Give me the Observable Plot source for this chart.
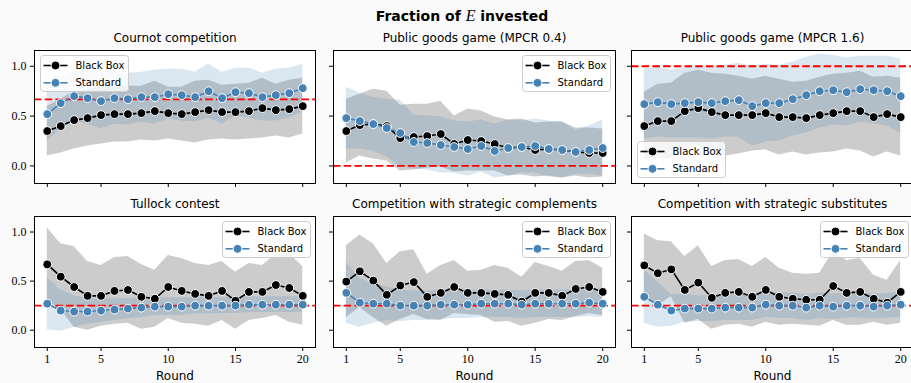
<!DOCTYPE html>
<html>
<head>
<meta charset="utf-8">
<script src="https://cdn.jsdelivr.net/npm/d3@7"></script>
<script src="https://cdn.jsdelivr.net/npm/@observablehq/plot@0.6"></script>
<style>
  html, body { margin: 0; padding: 0; background: #fafafa; }
  #fig { position: relative; width: 911px; height: 383px; overflow: hidden; background: #fafafa; }
  #fig > svg { position: absolute; }
</style>
</head>
<body>
<div id="fig"></div>
<script>
// Rounds of play
const rounds = [1, 2, 3, 4, 5, 6, 7, 8, 9, 10, 11, 12, 13, 14, 15, 16, 17, 18, 19, 20];
const xTicks = [1, 5, 10, 15, 20];
const yTicks = [0, 0.5, 1];

const panelTitles = [
  "Cournot competition",
  "Public goods game (MPCR 0.4)",
  "Public goods game (MPCR 1.6)",
  "Tullock contest",
  "Competition with strategic complements",
  "Competition with strategic substitutes"
];
const seriesNames = ["Black Box", "Standard"];
// Equilibrium benchmark per game (dashed red line)
const benchmarks = [0.667, 0, 1, 0.25, 0.25, 0.25];

// Mean fraction invested and its standard deviation, per round
const cournotBlackBox    = [0.35, 0.40, 0.46, 0.48, 0.51, 0.52, 0.52, 0.53, 0.55, 0.53, 0.52, 0.54, 0.56, 0.54, 0.54, 0.55, 0.58, 0.56, 0.57, 0.60];
const cournotBlackBoxSd  = [0.25, 0.27, 0.29, 0.28, 0.29, 0.28, 0.28, 0.27, 0.30, 0.26, 0.27, 0.31, 0.30, 0.27, 0.28, 0.28, 0.30, 0.26, 0.29, 0.28];
const cournotStandard    = [0.52, 0.63, 0.70, 0.68, 0.65, 0.68, 0.67, 0.69, 0.69, 0.72, 0.71, 0.69, 0.75, 0.68, 0.74, 0.73, 0.69, 0.71, 0.73, 0.78];
const cournotStandardSd  = [0.27, 0.26, 0.25, 0.26, 0.28, 0.26, 0.26, 0.25, 0.27, 0.25, 0.26, 0.25, 0.27, 0.26, 0.24, 0.25, 0.24, 0.26, 0.25, 0.24];

const pg04BlackBox       = [0.35, 0.41, 0.42, 0.40, 0.28, 0.29, 0.30, 0.32, 0.22, 0.26, 0.25, 0.22, 0.18, 0.19, 0.16, 0.17, 0.16, 0.14, 0.13, 0.13];
const pg04BlackBoxSd     = [0.32, 0.31, 0.35, 0.35, 0.33, 0.33, 0.32, 0.33, 0.28, 0.31, 0.30, 0.27, 0.28, 0.28, 0.27, 0.27, 0.28, 0.24, 0.25, 0.24];
const pg04Standard       = [0.48, 0.45, 0.42, 0.38, 0.33, 0.24, 0.23, 0.21, 0.19, 0.17, 0.20, 0.15, 0.18, 0.19, 0.20, 0.17, 0.16, 0.14, 0.16, 0.18];
const pg04StandardSd     = [0.31, 0.28, 0.27, 0.29, 0.33, 0.27, 0.27, 0.28, 0.26, 0.27, 0.26, 0.27, 0.28, 0.26, 0.27, 0.28, 0.28, 0.22, 0.24, 0.28];

const pg16BlackBox       = [0.40, 0.45, 0.45, 0.55, 0.58, 0.54, 0.51, 0.51, 0.51, 0.53, 0.49, 0.49, 0.48, 0.51, 0.53, 0.55, 0.55, 0.49, 0.52, 0.49];
const pg16BlackBoxSd     = [0.34, 0.37, 0.38, 0.38, 0.38, 0.39, 0.41, 0.39, 0.36, 0.37, 0.38, 0.35, 0.37, 0.38, 0.39, 0.38, 0.40, 0.40, 0.38, 0.39];
const pg16Standard       = [0.62, 0.64, 0.62, 0.63, 0.64, 0.63, 0.65, 0.66, 0.60, 0.63, 0.63, 0.67, 0.71, 0.75, 0.76, 0.74, 0.77, 0.76, 0.75, 0.70];
const pg16StandardSd     = [0.35, 0.35, 0.34, 0.35, 0.36, 0.36, 0.36, 0.37, 0.40, 0.39, 0.38, 0.37, 0.38, 0.37, 0.35, 0.34, 0.33, 0.34, 0.35, 0.37];

const tullockBlackBox    = [0.67, 0.545, 0.44, 0.35, 0.35, 0.40, 0.41, 0.34, 0.32, 0.44, 0.40, 0.37, 0.35, 0.40, 0.30, 0.39, 0.39, 0.46, 0.43, 0.35];
const tullockBlackBoxSd  = [0.37, 0.335, 0.41, 0.35, 0.31, 0.34, 0.34, 0.33, 0.29, 0.32, 0.33, 0.31, 0.31, 0.30, 0.29, 0.29, 0.27, 0.31, 0.35, 0.30];
const tullockStandard    = [0.27, 0.20, 0.19, 0.19, 0.20, 0.21, 0.22, 0.23, 0.24, 0.24, 0.24, 0.25, 0.25, 0.25, 0.25, 0.26, 0.26, 0.26, 0.26, 0.26];
const tullockStandardSd  = [0.265, 0.21, 0.16, 0.13, 0.12, 0.11, 0.10, 0.10, 0.09, 0.09, 0.09, 0.085, 0.085, 0.08, 0.08, 0.08, 0.08, 0.08, 0.08, 0.08];

const complBlackBox      = [0.495, 0.60, 0.505, 0.36, 0.455, 0.49, 0.34, 0.38, 0.44, 0.38, 0.38, 0.37, 0.36, 0.29, 0.38, 0.38, 0.35, 0.42, 0.44, 0.39];
const complBlackBoxSd    = [0.365, 0.37, 0.375, 0.32, 0.345, 0.33, 0.23, 0.28, 0.27, 0.22, 0.23, 0.29, 0.27, 0.25, 0.31, 0.27, 0.25, 0.28, 0.27, 0.24];
const complStandard      = [0.38, 0.28, 0.27, 0.27, 0.25, 0.25, 0.25, 0.26, 0.26, 0.26, 0.27, 0.27, 0.27, 0.26, 0.27, 0.27, 0.27, 0.27, 0.28, 0.27];
const complStandardSd    = [0.31, 0.25, 0.20, 0.17, 0.16, 0.15, 0.15, 0.15, 0.14, 0.14, 0.14, 0.14, 0.14, 0.14, 0.14, 0.14, 0.14, 0.14, 0.14, 0.14];

const substBlackBox      = [0.66, 0.58, 0.62, 0.41, 0.485, 0.33, 0.38, 0.39, 0.34, 0.41, 0.34, 0.32, 0.31, 0.31, 0.45, 0.38, 0.39, 0.32, 0.28, 0.39];
const substBlackBoxSd    = [0.32, 0.33, 0.28, 0.34, 0.375, 0.32, 0.33, 0.33, 0.31, 0.33, 0.29, 0.26, 0.26, 0.27, 0.35, 0.33, 0.34, 0.24, 0.23, 0.32];
const substStandard      = [0.34, 0.26, 0.20, 0.22, 0.22, 0.22, 0.23, 0.23, 0.23, 0.26, 0.25, 0.25, 0.23, 0.25, 0.24, 0.25, 0.25, 0.24, 0.25, 0.26];
const substStandardSd    = [0.27, 0.23, 0.16, 0.14, 0.13, 0.13, 0.13, 0.13, 0.13, 0.13, 0.13, 0.13, 0.13, 0.13, 0.13, 0.125, 0.125, 0.125, 0.125, 0.125];

const seriesByPanel = [
  [cournotBlackBox, cournotBlackBoxSd, cournotStandard, cournotStandardSd],
  [pg04BlackBox, pg04BlackBoxSd, pg04Standard, pg04StandardSd],
  [pg16BlackBox, pg16BlackBoxSd, pg16Standard, pg16StandardSd],
  [tullockBlackBox, tullockBlackBoxSd, tullockStandard, tullockStandardSd],
  [complBlackBox, complBlackBoxSd, complStandard, complStandardSd],
  [substBlackBox, substBlackBoxSd, substStandard, substStandardSd]
];
const legendCorners = ["top-left", "top-right", "bottom-left", "top-right", "top-right", "top-right"];

// Grid geometry: plot-area edges of each column and row
const colEdges = [[34, 315], [333, 615], [631, 913]];
const rowEdges = [[50, 183], [216, 347]];
const yDomain = [-0.176, 1.158];
const BLUE = "steelblue";

const fig = document.getElementById("fig");

// Figure title
const titleSvg = d3.select(fig).append("svg")
  .attr("width", 911).attr("height", 30).style("left", "0px").style("top", "0px");
const tt = titleSvg.append("text")
  .attr("x", 462).attr("y", 20.5).attr("text-anchor", "middle")
  .attr("font-family", "DejaVu Sans").attr("font-size", 14).attr("font-weight", "bold");
tt.append("tspan").text("Fraction of ");
tt.append("tspan").attr("font-family", "Liberation Serif").attr("font-style", "italic")
  .attr("font-weight", "normal").attr("font-size", 16).text("E");
tt.append("tspan").text(" invested");

function drawPanel(i) {
  const col = i % 3, row = Math.floor(i / 3);
  const [x0, x1] = colEdges[col];
  const [y0, y1] = rowEdges[row];
  const ml = 40, mr = 12, mt = 40, mb = 40;
  const fw = x1 - x0, fh = y1 - y0;
  const [bb, bbSd, st, stSd] = seriesByPanel[i];
  const data = rounds.map((r, k) => ({round: r, bb: bb[k], bbSd: bbSd[k], st: st[k], stSd: stSd[k]}));

  const svg = Plot.plot({
    width: fw + ml + mr,
    height: fh + mt + mb,
    marginLeft: ml, marginRight: mr, marginTop: mt, marginBottom: mb,
    x: {domain: [0.05, 20.95]},
    y: {domain: yDomain},
    style: {background: "transparent", overflow: "visible", fontFamily: "Liberation Serif", fontSize: "12px", color: "black"},
    marks: [
      Plot.frame({fill: "white", stroke: null}),
      Plot.areaY(data, {x: "round", y1: d => d.bb - d.bbSd, y2: d => d.bb + d.bbSd, fill: "black", fillOpacity: 0.2}),
      Plot.areaY(data, {x: "round", y1: d => d.st - d.stSd, y2: d => d.st + d.stSd, fill: BLUE, fillOpacity: 0.2}),
      Plot.ruleY([benchmarks[i]], {stroke: "red", strokeWidth: 1.8, strokeDasharray: "7.5,3.2"}),
      Plot.line(data, {x: "round", y: "bb", stroke: "black", strokeWidth: 1.6}),
      Plot.dot(data, {x: "round", y: "bb", r: 4.4, fill: "black", stroke: "white", strokeWidth: 1}),
      Plot.line(data, {x: "round", y: "st", stroke: BLUE, strokeWidth: 1.6}),
      Plot.dot(data, {x: "round", y: "st", r: 4.4, fill: BLUE, stroke: "white", strokeWidth: 1}),
      Plot.frame({stroke: "black", strokeWidth: 1}),
      Plot.axisY({ticks: yTicks, tickSize: 4, tickPadding: 4, label: null,
                  tickFormat: col === 0 ? d3.format(".1f") : () => ""}),
      Plot.axisX({ticks: xTicks, tickSize: 4, tickPadding: 3, label: null,
                  tickFormat: row === 1 ? d3.format("d") : () => ""}),
      Plot.text([panelTitles[i]], {text: d => d, frameAnchor: "top", lineAnchor: "middle", dy: -12,
                                   fontFamily: "DejaVu Sans", fontSize: 12}),
      row === 1 ? Plot.text(["Round"], {text: d => d, frameAnchor: "bottom", lineAnchor: "middle", dy: 29,
                                        fontFamily: "DejaVu Sans", fontSize: 12}) : null
    ]
  });

  svg.style.position = "absolute";
  svg.style.left = (x0 - ml) + "px";
  svg.style.top = (y0 - mt) + "px";
  fig.appendChild(svg);

  // Legend box
  const lw = 88, lh = 36, pad = 5;
  const corner = legendCorners[i];
  const lx = corner.endsWith("left") ? ml + pad + 1 : ml + fw - lw - pad;
  const ly = corner.startsWith("top") ? mt + pad : mt + fh - lh - pad - 1;
  const g = d3.select(svg).append("g").attr("transform", `translate(${lx},${ly})`)
    .attr("text-anchor", "start");
  g.append("rect").attr("x", 0.5).attr("y", 0.5).attr("width", lw).attr("height", lh).attr("rx", 3)
    .attr("fill", "white").attr("fill-opacity", 0.8).attr("stroke", "#cccccc").attr("stroke-width", 1);
  seriesNames.forEach((name, k) => {
    const color = k === 0 ? "black" : BLUE;
    const cy = 10.5 + k * 17.3;
    g.append("line").attr("x1", 3.5).attr("x2", 27.5).attr("y1", cy).attr("y2", cy)
      .attr("stroke", color).attr("stroke-width", 1.6);
    g.append("circle").attr("cx", 15.5).attr("cy", cy).attr("r", 4.4)
      .attr("fill", color).attr("stroke", "white").attr("stroke-width", 1);
    g.append("text").attr("x", 35.5).attr("y", cy).attr("dy", "0.35em").attr("text-anchor", "start")
      .attr("font-family", "DejaVu Sans").attr("font-size", 10).attr("fill", "black").text(name);
  });
}

for (let i = 0; i < 6; i++) drawPanel(i);
</script>
</body>
</html>
